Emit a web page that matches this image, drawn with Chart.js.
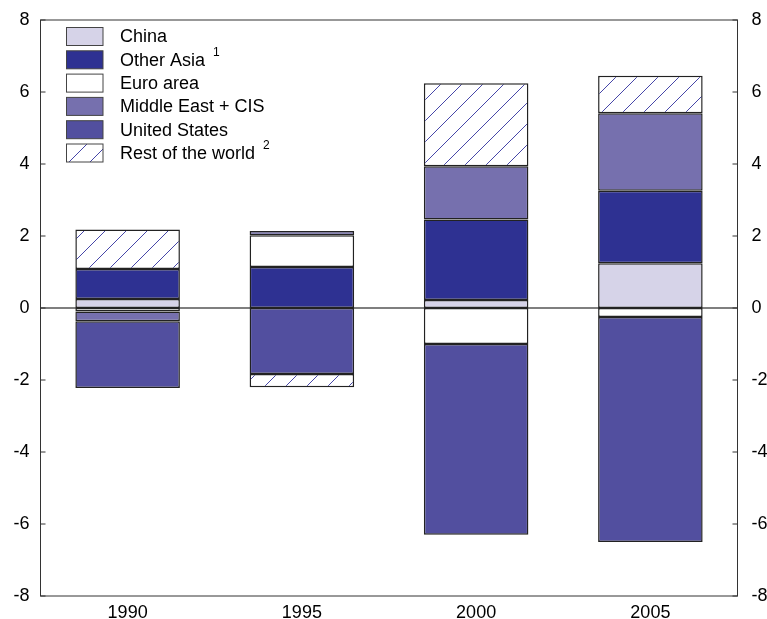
<!DOCTYPE html>
<html>
<head>
<meta charset="utf-8">
<style>
  html, body { margin: 0; padding: 0; background: #fff; }
  #wrap { width: 767px; height: 619px; position: relative; }
</style>
<script src="https://cdn.jsdelivr.net/npm/chart.js@4.4.1/dist/chart.umd.min.js"></script>
</head>
<body>
<div id="wrap"><canvas id="c" width="767" height="619"></canvas></div>
<script>
// Current account balances by region, % of world GDP
const years = ['1990', '1995', '2000', '2005'];
const china         = [0.25, 0.00, 0.22, 1.24];
const otherAsia     = [0.83, 1.14, 2.24, 2.02];
const euroArea      = [-0.10, 0.88, -1.00, -0.25];
const middleEastCIS = [-0.27, 0.12, 1.48, 2.15];
const unitedStates  = [-1.85, -1.83, -5.30, -6.25];
const restOfWorld   = [1.10, -0.37, 2.30, 1.04];
const seriesNames = ['China', 'Other Asia', 'Euro area', 'Middle East + CIS', 'United States', 'Rest of the world'];
const footnotes   = ['', '1', '', '', '', '2'];
const yTicks = [-8, -6, -4, -2, 0, 2, 4, 6, 8];

const FONT = '"Liberation Sans", Arial, Helvetica, sans-serif';
const canvas = document.getElementById('c');
const ctx = canvas.getContext('2d');

// diagonal hatch fill
function makeHatch() {
  const t = document.createElement('canvas');
  t.width = 21; t.height = 21;
  const g = t.getContext('2d');
  g.fillStyle = '#ffffff';
  g.fillRect(0, 0, 21, 21);
  g.strokeStyle = '#4646a8';
  g.lineWidth = 1;
  g.beginPath();
  g.moveTo(-2, 23); g.lineTo(23, -2);
  g.stroke();
  return ctx.createPattern(t, 'repeat');
}
const hatch = makeHatch();

const fills = ['#d6d3e8', '#2e3192', '#ffffff', '#7670ae', '#524f9f', hatch];
const values = [china, otherAsia, euroArea, middleEastCIS, unitedStates, restOfWorld];

const datasets = values.map((v, i) => ({
  label: seriesNames[i],
  data: v,
  backgroundColor: fills[i],
  borderColor: '#222222',
  borderWidth: 1.5,
  borderSkipped: false,
  categoryPercentage: 1.0,
  barPercentage: 0.6,
  yAxisID: 'y'
}));

// plot frame, zero line, inward ticks
const framePlugin = {
  id: 'frame',
  beforeDatasetsDraw(chart) {
    const { ctx, chartArea: a, scales } = chart;
    const y0 = scales.y.getPixelForValue(0);
    ctx.save();
    ctx.strokeStyle = '#555';
    ctx.lineWidth = 1.5;
    ctx.beginPath();
    ctx.moveTo(a.left, y0); ctx.lineTo(a.right, y0);
    ctx.stroke();
    ctx.restore();
  },
  afterDatasetsDraw(chart) {
    const { ctx, chartArea: a, scales } = chart;
    ctx.save();
    ctx.strokeStyle = '#333';
    ctx.lineWidth = 1;
    ctx.strokeRect(a.left, a.top, a.right - a.left, a.bottom - a.top);
    ctx.beginPath();
    yTicks.forEach(v => {
      const y = scales.y.getPixelForValue(v);
      ctx.moveTo(a.left, y); ctx.lineTo(a.left + 5, y);
      ctx.moveTo(a.right, y); ctx.lineTo(a.right - 5, y);
    });
    ctx.stroke();
    ctx.restore();
  }
};

// legend inside the plot, top left
const legendPlugin = {
  id: 'insetLegend',
  afterDraw(chart) {
    const { ctx } = chart;
    const bx = 66.5, bw = 36.5, bh = 18, top0 = 27.5, step = 23.3;
    ctx.save();
    seriesNames.forEach((name, i) => {
      const y = top0 + i * step;
      ctx.fillStyle = fills[i];
      ctx.fillRect(bx, y, bw, bh);
      ctx.strokeStyle = '#444';
      ctx.lineWidth = 1;
      ctx.strokeRect(bx, y, bw, bh);
      ctx.fillStyle = '#000';
      ctx.font = '18px ' + FONT;
      ctx.textAlign = 'left';
      ctx.textBaseline = 'middle';
      const tx = 120, ty = y + bh / 2 + 1;
      ctx.fillText(name, tx, ty);
      if (footnotes[i]) {
        const w = ctx.measureText(name).width;
        ctx.font = '12px ' + FONT;
        ctx.fillText(footnotes[i], tx + w + 8, ty - 8);
      }
    });
    ctx.restore();
  }
};

const tickFont = { family: FONT, size: 18 };

new Chart(ctx, {
  type: 'bar',
  data: { labels: years, datasets },
  plugins: [framePlugin, legendPlugin],
  options: {
    responsive: false,
    devicePixelRatio: 1,
    animation: false,
    layout: { padding: { top: 20, left: 0, right: 0, bottom: 0 } },
    plugins: { legend: { display: false }, tooltip: { enabled: false } },
    scales: {
      x: {
        stacked: true,
        grid: { display: false },
        border: { display: false },
        ticks: { color: '#000', font: tickFont, padding: -1.5, maxRotation: 0 },
        afterFit(s) { s.height = 23; }
      },
      y: {
        stacked: true,
        position: 'left',
        min: -8, max: 8,
        grid: { display: false },
        border: { display: false },
        ticks: { stepSize: 2, color: '#000', font: tickFont, padding: 3 },
        afterFit(s) { s.width = 40.5; }
      },
      y2: {
        position: 'right',
        min: -8, max: 8,
        grid: { display: false },
        border: { display: false },
        ticks: { stepSize: 2, color: '#000', font: tickFont, padding: 6 },
        afterFit(s) { s.width = 29.5; }
      }
    }
  }
});
</script>
</body>
</html>
